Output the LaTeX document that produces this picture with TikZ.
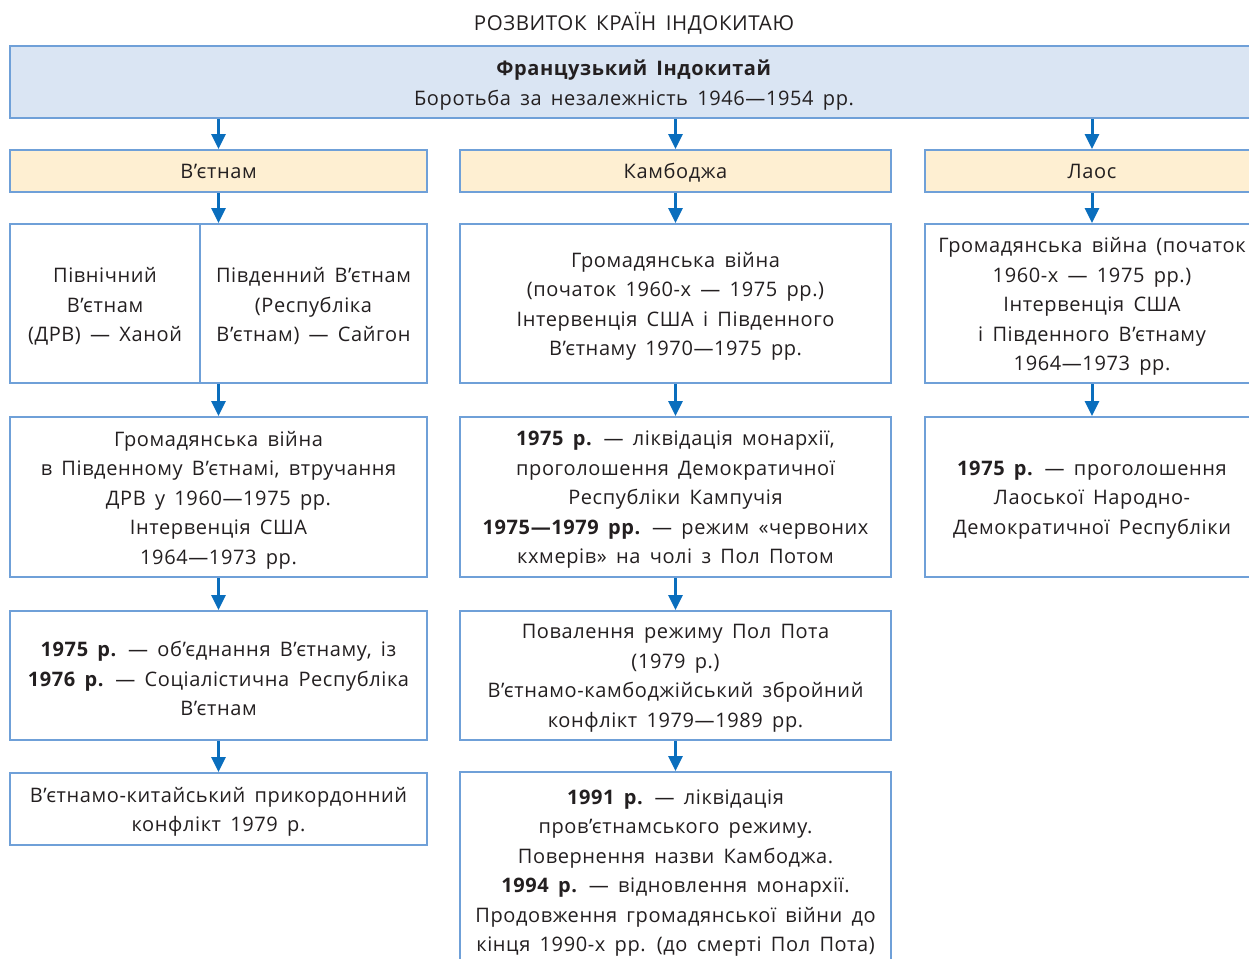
\documentclass[tikz,border=0pt]{standalone}
\usepackage{fontspec}
\setmainfont{Open Sans}[LetterSpace=3,WordSpace=1.6]
\usetikzlibrary{arrows.meta}
\definecolor{bordc}{HTML}{6FA0D8}
\definecolor{topfill}{HTML}{DAE5F3}
\definecolor{cfill}{HTML}{FEEFD2}
\definecolor{arrc}{HTML}{0A6EBD}
\definecolor{txt}{HTML}{231F20}
% \bx{name}{style}{x}{y}{w}{h}{text}
\newcommand{\bx}[7]{%
  \node[#2, minimum width=#5pt, minimum height=#6pt] (#1) at (#3,#4) {};
  \node[lbl] (#1-t) at ([yshift=-3pt]#1.center) {#7};}
\begin{document}
\begin{tikzpicture}[x=1pt,y=-1pt,
  box/.style={draw=bordc, line width=2pt, fill=white, inner sep=0pt},
  topbox/.style={box, fill=topfill},
  cbox/.style={box, fill=cfill},
  lbl/.style={align=center, inner sep=0pt, text=txt, font=\fontsize{20}{29.5}\selectfont},
  arr/.style={draw=arrc, line width=3pt, -{Triangle[width=14pt,length=15pt]}},
  ttl/.style={text=txt, font=\fontsize{20.5}{24}\selectfont, inner sep=0pt}
]
\useasboundingbox (0,0) rectangle (1249,958);
\clip (0,0) rectangle (1249,958);
\node[ttl] (title) at (634,23.5) {РОЗВИТОК КРАЇН ІНДОКИТАЮ};
\bx{top}{topbox}{634}{82}{1248}{72}{\textbf{Французький Індокитай}\\Боротьба за незалежність 1946—1954 рр.}
% countries
\node[cbox, minimum width=417pt, minimum height=42pt] (vc) at (218.5,171) {};
\node[lbl, anchor=base] (vc-t) at ([yshift=-7pt]vc.center) {В’єтнам};
\node[cbox, minimum width=431pt, minimum height=42pt] (cc) at (675.5,171) {};
\node[lbl, anchor=base] (cc-t) at ([yshift=-7pt]cc.center) {Камбоджа};
\node[cbox, minimum width=334pt, minimum height=42pt] (lc) at (1092,171) {};
\node[lbl, anchor=base] (lc-t) at ([yshift=-7pt]lc.center) {Лаос};
% row 3
\bx{v3a}{box}{105}{303.5}{190}{159}{Північний\\В’єтнам\\(ДРВ) — Ханой}
\bx{v3b}{box}{313.5}{303.5}{227}{159}{Південний В’єтнам\\(Республіка\\В’єтнам) — Сайгон}
\bx{c3}{box}{675.5}{303.5}{431}{159}{Громадянська війна\\(початок 1960-х — 1975 рр.)\\Інтервенція США і Південного\\В’єтнаму 1970—1975 рр.}
\bx{l3}{box}{1092}{303.5}{334}{159}{Громадянська війна (початок\\1960-х — 1975 рр.)\\Інтервенція США\\і Південного В’єтнаму\\1964—1973 рр.}
% row 4
\bx{v4}{box}{218.5}{497}{417}{160}{Громадянська війна\\в Південному В’єтнамі, втручання\\ДРВ у 1960—1975 рр.\\Інтервенція США\\1964—1973 рр.}
\bx{c4}{box}{675.5}{497}{431}{160}{\textbf{1975 р.} — ліквідація монархії,\\проголошення Демократичної\\Республіки Кампучія\\\textbf{1975—1979 рр.} — режим «червоних\\кхмерів» на чолі з Пол Потом}
\bx{l4}{box}{1092}{497}{334}{160}{\textbf{1975 р.} — проголошення\\Лаоської Народно-\\Демократичної Республіки}
% row 5
\bx{v5}{box}{218.5}{675.5}{417}{129}{\textbf{1975 р.} — об’єднання В’єтнаму, із\\\textbf{1976 р.} — Соціалістична Республіка\\В’єтнам}
\bx{c5}{box}{675.5}{675.5}{431}{129}{Повалення режиму Пол Пота\\(1979 р.)\\В’єтнамо-камбоджійський збройний\\конфлікт 1979—1989 рр.}
% row 6
\bx{v6}{box}{218.5}{809}{417}{72}{В’єтнамо-китайський прикордонний\\конфлікт 1979 р.}
\bx{c6}{box}{675.5}{870}{431}{196}{\textbf{1991 р.} — ліквідація\\пров’єтнамського режиму.\\Повернення назви Камбоджа.\\\textbf{1994 р.} — відновлення монархії.\\Продовження громадянської війни до\\кінця 1990-х рр. (до смерті Пол Пота)}
% arrows
\draw[arr] (top.south -| vc.north) -- (vc.north);
\draw[arr] (top.south -| cc.north) -- (cc.north);
\draw[arr] (top.south -| lc.north) -- (lc.north);
\coordinate (v3top) at (vc.south |- v3b.north);
\coordinate (v3bot) at (vc.south |- v3b.south);
\draw[arr] (vc.south) -- (v3top);
\draw[arr] (cc.south) -- (c3.north);
\draw[arr] (lc.south) -- (l3.north);
\draw[arr] (v3bot) -- (v4.north);
\draw[arr] (c3.south) -- (c4.north);
\draw[arr] (l3.south) -- (l4.north);
\draw[arr] (v4.south) -- (v5.north);
\draw[arr] (c4.south) -- (c5.north);
\draw[arr] (v5.south) -- (v6.north);
\draw[arr] (c5.south) -- (c6.north);
\end{tikzpicture}
\end{document}
